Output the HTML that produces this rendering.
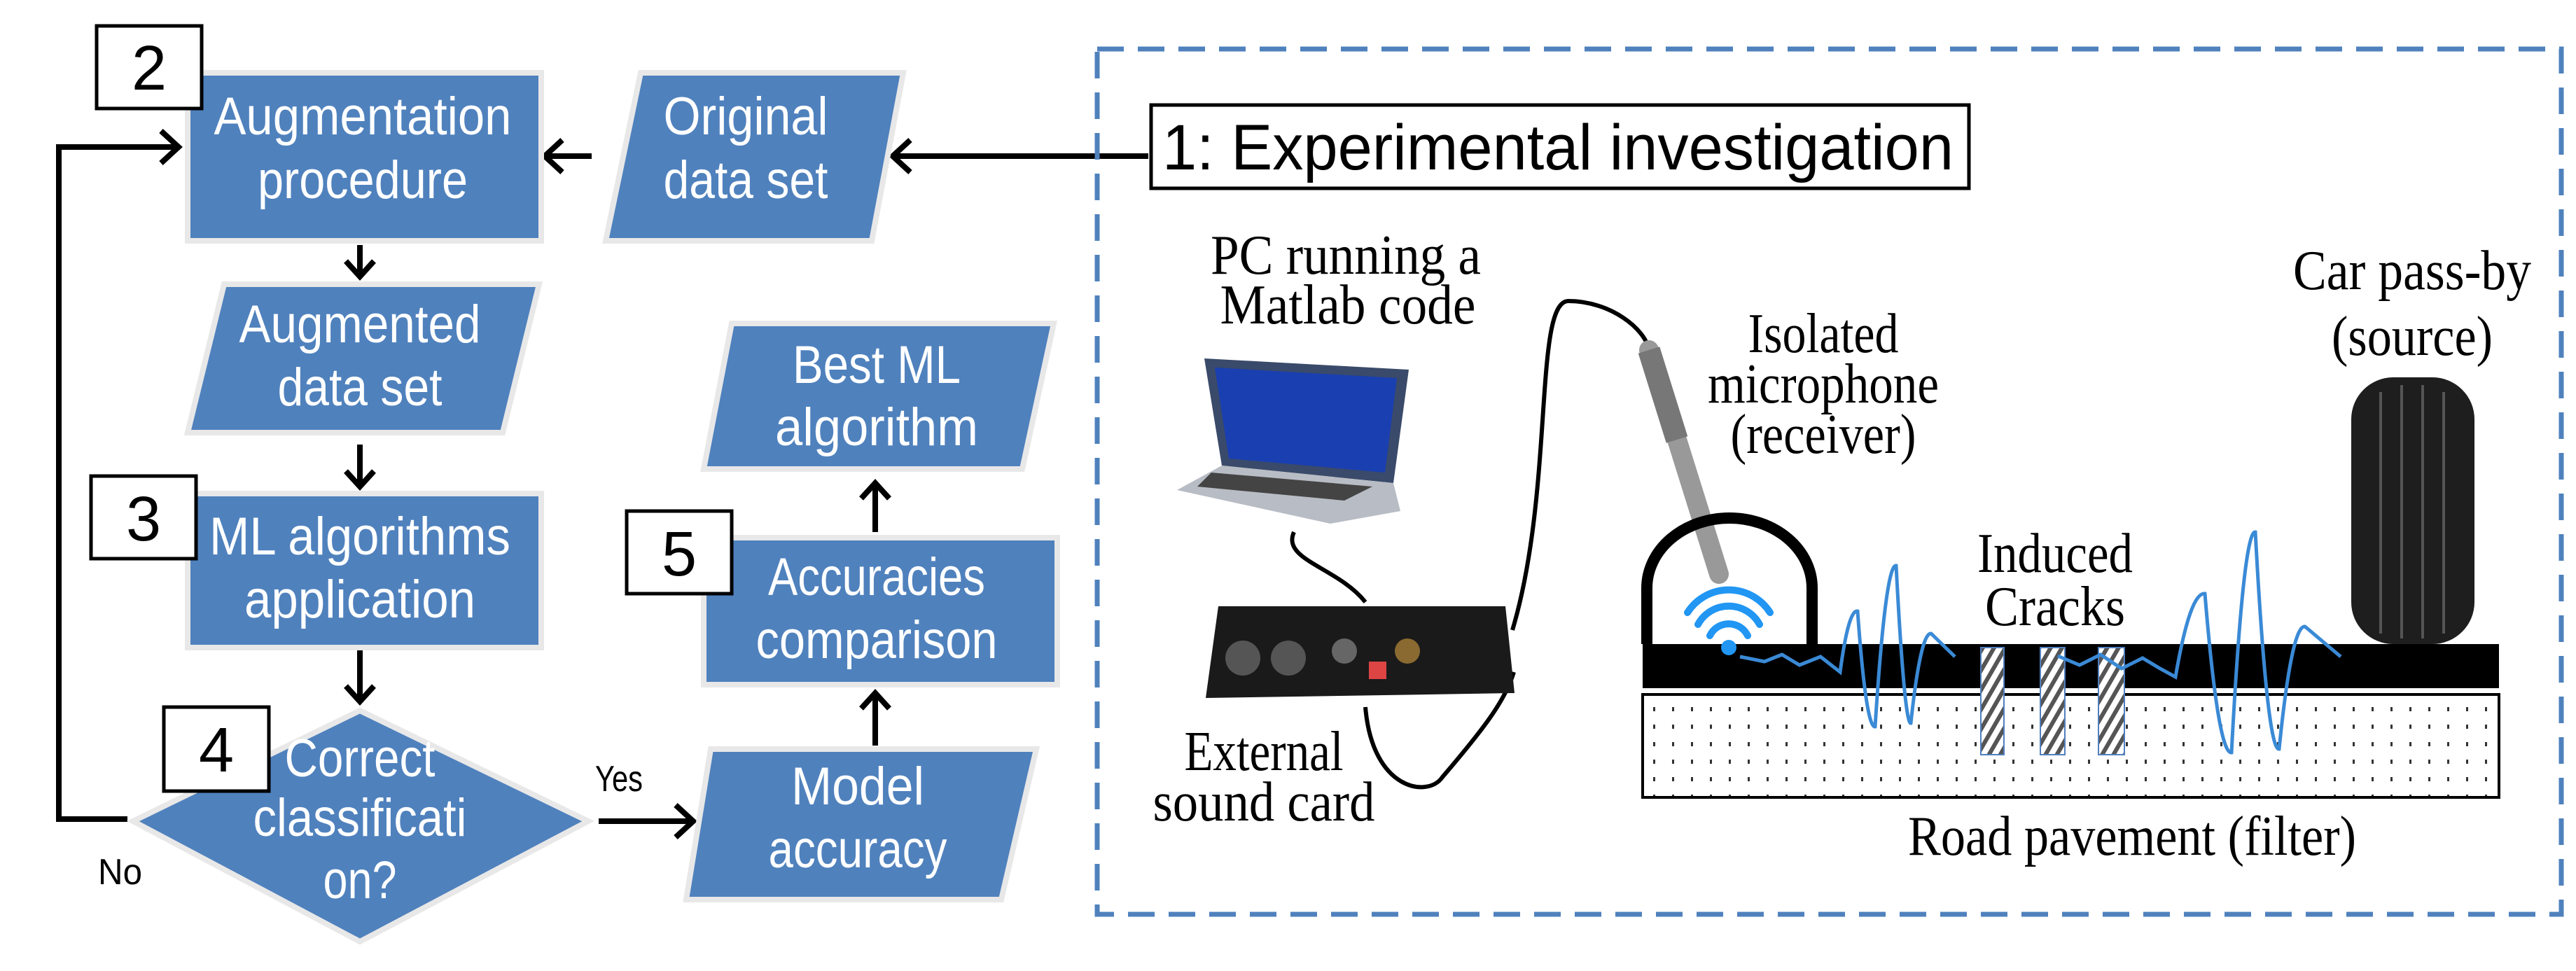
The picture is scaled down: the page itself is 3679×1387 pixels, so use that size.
<!DOCTYPE html>
<html><head><meta charset="utf-8"><style>
html,body{margin:0;padding:0;background:#fff;}
svg{display:block;}
.f{fill:#4f81bd;stroke:#e8e8e8;stroke-width:8;}
.t{font-family:"Liberation Sans",sans-serif;fill:#fff;font-size:76px;text-anchor:middle;}
.n{font-family:"Liberation Sans",sans-serif;fill:#000;font-size:90px;text-anchor:middle;}
.s{font-family:"Liberation Serif",serif;fill:#000;font-size:80px;text-anchor:middle;}
.ln{stroke:#000;stroke-width:8;fill:none;}
</style></head><body>
<svg width="3679" height="1387" viewBox="0 0 3679 1387" xmlns="http://www.w3.org/2000/svg">
<defs>
<pattern id="dots" width="27" height="25" patternUnits="userSpaceOnUse"><rect x="12" y="10" width="3" height="6" fill="#333"/></pattern>
<pattern id="hatch" width="14" height="14" patternUnits="userSpaceOnUse" patternTransform="rotate(30)"><rect width="14" height="14" fill="#fff"/><rect width="6" height="14" fill="#555"/></pattern>
</defs>

<g class="ln">
<path d="M1640 223 H1275"/><path d="M1300 200 L1275 223 L1300 246"/>
<path d="M845 223 H778"/><path d="M803 200 L778 223 L803 246"/>
<path d="M182 1170 H84 V210 H255"/><path d="M230 187 L255 210 L230 233"/>
<path d="M514 350 V395"/><path d="M494 373 L514 395 L534 373"/>
<path d="M514 635 V695"/><path d="M494 673 L514 695 L534 673"/>
<path d="M514 928 V1002"/><path d="M494 980 L514 1002 L534 980"/>
<path d="M855 1173 H990"/><path d="M965 1150 L990 1173 L965 1196"/>
<path d="M1250 1065 V990"/><path d="M1230 1012 L1250 990 L1270 1012"/>
<path d="M1250 760 V690"/><path d="M1230 712 L1250 690 L1270 712"/>
</g>

<rect class="f" x="268" y="104" width="505" height="240"/>
<polygon class="f" points="915,104 1290,104 1245,344 865,344"/>
<polygon class="f" points="320,406 770,406 718,618 268,618"/>
<rect class="f" x="268" y="705" width="505" height="220"/>
<polygon class="f" points="514,1015 840,1173 514,1345 190,1173"/>
<polygon class="f" points="1015,1070 1480,1070 1430,1285 980,1285"/>
<rect class="f" x="1005" y="768" width="505" height="210"/>
<polygon class="f" points="1045,462 1505,462 1460,670 1005,670"/>

<rect x="138" y="37" width="150" height="118" fill="#fff" stroke="#000" stroke-width="5"/>
<text class="n" x="213" y="128">2</text>
<rect x="130" y="680" width="150" height="118" fill="#fff" stroke="#000" stroke-width="5"/>
<text class="n" x="205" y="772">3</text>
<rect x="234" y="1010" width="150" height="120" fill="#fff" stroke="#000" stroke-width="5"/>
<text class="n" x="309" y="1102">4</text>
<rect x="895" y="730" width="150" height="118" fill="#fff" stroke="#000" stroke-width="5"/>
<text class="n" x="970" y="822">5</text>

<text class="t" x="518" y="192" textLength="425" lengthAdjust="spacingAndGlyphs">Augmentation</text>
<text class="t" x="518" y="283" textLength="300" lengthAdjust="spacingAndGlyphs">procedure</text>
<text class="t" x="1065" y="192" textLength="235" lengthAdjust="spacingAndGlyphs">Original</text>
<text class="t" x="1065" y="283" textLength="235" lengthAdjust="spacingAndGlyphs">data set</text>
<text class="t" x="514" y="489" textLength="345" lengthAdjust="spacingAndGlyphs">Augmented</text>
<text class="t" x="514" y="579" textLength="235" lengthAdjust="spacingAndGlyphs">data set</text>
<text class="t" x="514" y="792" textLength="430" lengthAdjust="spacingAndGlyphs">ML algorithms</text>
<text class="t" x="514" y="882" textLength="330" lengthAdjust="spacingAndGlyphs">application</text>
<text class="t" x="514" y="1109" textLength="215" lengthAdjust="spacingAndGlyphs">Correct</text>
<text class="t" x="514" y="1194" textLength="305" lengthAdjust="spacingAndGlyphs">classificati</text>
<text class="t" x="514" y="1283" textLength="105" lengthAdjust="spacingAndGlyphs">on?</text>
<text class="t" x="1225" y="1149" textLength="190" lengthAdjust="spacingAndGlyphs">Model</text>
<text class="t" x="1225" y="1239" textLength="255" lengthAdjust="spacingAndGlyphs">accuracy</text>
<text class="t" x="1252" y="850" textLength="310" lengthAdjust="spacingAndGlyphs">Accuracies</text>
<text class="t" x="1252" y="940" textLength="345" lengthAdjust="spacingAndGlyphs">comparison</text>
<text class="t" x="1252" y="547" textLength="240" lengthAdjust="spacingAndGlyphs">Best ML</text>
<text class="t" x="1252" y="636" textLength="290" lengthAdjust="spacingAndGlyphs">algorithm</text>
<text x="850" y="1130" font-family="Liberation Sans,sans-serif" font-size="52" textLength="68" lengthAdjust="spacingAndGlyphs">Yes</text>
<text x="140" y="1263" font-family="Liberation Sans,sans-serif" font-size="52" textLength="63" lengthAdjust="spacingAndGlyphs">No</text>

<rect x="1567" y="70" width="2091" height="1236" fill="none" stroke="#4f81bd" stroke-width="7" stroke-dasharray="38 20"/>
<rect x="1644" y="150" width="1168" height="119" fill="#fff" stroke="#000" stroke-width="5"/>
<text x="1660" y="242" font-family="Liberation Sans,sans-serif" font-size="92" textLength="1130" lengthAdjust="spacingAndGlyphs">1: Experimental investigation</text>

<text class="s" x="1922" y="391" textLength="386" lengthAdjust="spacingAndGlyphs">PC running  a</text>
<text class="s" x="1925" y="462" textLength="365" lengthAdjust="spacingAndGlyphs">Matlab  code</text>
<text class="s" x="1805" y="1100" textLength="227" lengthAdjust="spacingAndGlyphs">External</text>
<text class="s" x="1805" y="1172" textLength="317" lengthAdjust="spacingAndGlyphs">sound  card</text>
<text class="s" x="2604" y="503" textLength="215" lengthAdjust="spacingAndGlyphs">Isolated</text>
<text class="s" x="2604" y="575" textLength="330" lengthAdjust="spacingAndGlyphs">microphone</text>
<text class="s" x="2604" y="647" textLength="265" lengthAdjust="spacingAndGlyphs">(receiver)</text>
<text class="s" x="3445" y="413" textLength="340" lengthAdjust="spacingAndGlyphs">Car pass-by</text>
<text class="s" x="3445" y="507" textLength="230" lengthAdjust="spacingAndGlyphs">(source)</text>
<text class="s" x="2935" y="817" textLength="222" lengthAdjust="spacingAndGlyphs">Induced</text>
<text class="s" x="2935" y="893" textLength="200" lengthAdjust="spacingAndGlyphs">Cracks</text>
<text class="s" x="3045" y="1221" textLength="640" lengthAdjust="spacingAndGlyphs">Road pavement  (filter)</text>

<polygon points="1720,512 2012,528 1990,690 1745,665" fill="#3a4a6a"/>
<polygon points="1735,525 1995,540 1978,675 1755,655" fill="#1a3fb0"/>
<polygon points="1745,665 1990,690 2000,730 1900,748 1681,700" fill="#b8bcc4"/>
<polygon points="1730,675 1960,695 1920,715 1710,695" fill="#444"/>
<path d="M1848 760 C1830 800 1910 810 1950 860" stroke="#000" stroke-width="6" fill="none"/>
<path d="M2160 900 C2220 700 2190 430 2240 430 C2300 430 2350 470 2355 500" stroke="#000" stroke-width="6" fill="none"/>
<path d="M1950 1010 C1960 1130 2040 1140 2060 1110 C2120 1040 2150 1000 2162 960" stroke="#000" stroke-width="6" fill="none"/>
<polygon points="1740,866 2150,866 2163,990 1722,997" fill="#1a1a1a"/>
<circle cx="1775" cy="940" r="25" fill="#555"/><circle cx="1840" cy="940" r="25" fill="#555"/>
<circle cx="1920" cy="930" r="18" fill="#666"/><circle cx="2010" cy="930" r="18" fill="#8a6a30"/>
<rect x="1955" y="945" width="25" height="25" fill="#d44"/>
<path d="M2355 500 L2455 820" stroke="#999" stroke-width="28" stroke-linecap="round"/>
<path d="M2355 500 L2395 628" stroke="#777" stroke-width="32"/>
<path d="M2352 920 V840 A118 100 0 0 1 2588 840 V920" fill="none" stroke="#000" stroke-width="16"/>
<rect x="2346" y="920" width="1223" height="63" fill="#000"/>
<rect x="2346" y="992" width="1223" height="147" fill="url(#dots)" stroke="#000" stroke-width="4"/>
<rect x="2829" y="925" width="33" height="153" fill="url(#hatch)" stroke="#4f7fbf" stroke-width="2"/>
<rect x="2914" y="925" width="35" height="153" fill="url(#hatch)" stroke="#4f7fbf" stroke-width="2"/>
<rect x="2997" y="925" width="37" height="153" fill="url(#hatch)" stroke="#4f7fbf" stroke-width="2"/>
<g fill="none" stroke="#2196f3" stroke-width="10" stroke-linecap="round">
<path d="M2410 875 A70 70 0 0 1 2528 875"/><path d="M2425 892 A50 50 0 0 1 2513 892"/><path d="M2442 908 A30 30 0 0 1 2496 908"/>
</g>
<circle cx="2469" cy="925" r="11" fill="#2196f3"/>
<rect x="3358" y="539" width="176" height="381" rx="60" fill="#1e1e1e"/>
<g stroke="#555" stroke-width="4" fill="none">
<path d="M3400 560 V905"/><path d="M3430 550 V912"/><path d="M3460 550 V912"/><path d="M3490 560 V905"/>
</g>
<g fill="none" stroke="#3a8ad6" stroke-width="5">
<path d="M2485 938 L2520 945 L2545 935 L2570 950 L2600 938 L2628 960 Q2640 870 2653 873 Q2665 1040 2678 1038 Q2693 805 2708 808 Q2720 1035 2729 1033 Q2743 903 2758 905 L2792 938"/>
<path d="M2939 937 L2970 950 L3000 935 L3030 955 L3060 940 L3085 955 L3107 967 Q3128 845 3149 848 Q3168 1078 3187 1075 Q3204 757 3221 760 Q3238 1073 3255 1070 Q3273 892 3292 895 L3343 938"/>
</g>
</svg>
</body></html>
